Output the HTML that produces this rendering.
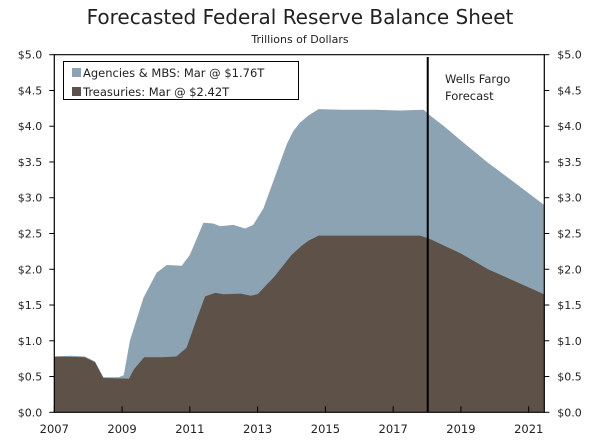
<!DOCTYPE html>
<html><head><meta charset="utf-8"><style>
body{margin:0;background:#fff;width:600px;height:444px;overflow:hidden;font-family:"DejaVu Sans","Liberation Sans",sans-serif;}
</style></head><body>
<svg id="chart" width="600" height="444">
<text x="300" y="24" text-anchor="middle" font-size="20" fill="#222">Forecasted Federal Reserve Balance Sheet</text>
<text x="300" y="43" text-anchor="middle" font-size="11" fill="#222">Trillions of Dollars</text>
<g id="plot"></g>
</svg>
<script>
const totalYears=[2007,2007.5,2007.9,2008.2,2008.45,2008.9,2009.05,2009.23,2009.63,2010.02,2010.32,2010.76,2011.0,2011.4,2011.69,2011.9,2012.28,2012.63,2012.87,2013.17,2013.86,2014.05,2014.25,2014.5,2014.8,2015.5,2016.5,2017.2,2017.9,2018.04,2018.5,2019.0,2019.77,2020.56,2021.45];
const totalValues=[0.78,0.79,0.78,0.71,0.49,0.49,0.52,1.0,1.6,1.95,2.06,2.05,2.2,2.65,2.64,2.6,2.62,2.57,2.62,2.85,3.75,3.93,4.05,4.15,4.24,4.23,4.23,4.22,4.23,4.17,4.0,3.8,3.5,3.22,2.9];
const treasYears=[2007,2007.9,2008.2,2008.45,2009.2,2009.35,2009.65,2010.2,2010.6,2010.9,2011.2,2011.45,2011.75,2012.0,2012.5,2012.8,2013.0,2013.5,2014.0,2014.3,2014.5,2014.8,2017.8,2018.1,2019.0,2019.8,2020.6,2021.45];
const treasValues=[0.78,0.77,0.7,0.48,0.47,0.6,0.77,0.77,0.78,0.9,1.3,1.62,1.67,1.65,1.66,1.63,1.65,1.9,2.2,2.33,2.4,2.47,2.47,2.42,2.22,2.0,1.83,1.65];
const yTicks=[0,0.5,1,1.5,2,2.5,3,3.5,4,4.5,5];
const xTicks=[2007,2009,2011,2013,2015,2017,2019,2021];
const forecastYear=2018.02;

const X0=54.3,X1=544.3,Y0=412.3,Y1=54.7,yrMin=2007,yrMax=2021.46;
const xs=y=>X0+(y-yrMin)/(yrMax-yrMin)*(X1-X0);
const ys=v=>Y0-v/5*(Y0-Y1);
const NS='http://www.w3.org/2000/svg';
const g=document.getElementById('plot');
function mk(t,a){const e=document.createElementNS(NS,t);for(const k in a)e.setAttribute(k,a[k]);g.appendChild(e);return e;}
function area(yrs,vals){let d='M'+xs(yrs[0])+','+Y0;yrs.forEach((y,i)=>d+='L'+xs(y).toFixed(1)+','+ys(vals[i]).toFixed(1));d+='L'+xs(yrs[yrs.length-1])+','+Y0+'Z';return d;}
let a1=mk('path',{d:area(totalYears,totalValues),fill:'#8ba3b2'});


let a2=mk('path',{d:area(treasYears,treasValues),fill:'#5e5147'});


let fl=mk('line',{x1:xs(forecastYear),x2:xs(forecastYear),y1:57,y2:Y0,stroke:'#000','stroke-width':2});


let ft=mk('text',{x:445,y:83,'font-size':11.5,fill:'#222'});ft.textContent='Wells Fargo';


let ft2=mk('text',{x:445,y:100,'font-size':11.5,fill:'#222'});ft2.textContent='Forecast';


let fr=mk('path',{d:`M${X0},${Y1}H${X1}V${Y0}H${X0}Z`,fill:'none',stroke:'#000','stroke-width':1.2});


yTicks.forEach(v=>{
 mk('line',{x1:X0-5,x2:X0,y1:ys(v),y2:ys(v),stroke:'#000'});
 mk('line',{x1:X1,x2:X1+5,y1:ys(v),y2:ys(v),stroke:'#000'});
 let t=mk('text',{x:X0-12,y:ys(v)+4,'text-anchor':'end','font-size':11,fill:'#222'});t.textContent='$'+v.toFixed(1);
 
 
 let t2=mk('text',{x:X1+13,y:ys(v)+4,'font-size':11,fill:'#222'});t2.textContent='$'+v.toFixed(1);
 
 
});
xTicks.forEach(y=>{
 mk('line',{x1:xs(y),x2:xs(y),y1:Y0,y2:Y0-6,stroke:'#000'});
 let t=mk('text',{x:xs(y),y:433,'text-anchor':'middle','font-size':11.5,fill:'#222'});t.textContent=y;
 
 
});
let lb=mk('rect',{x:63.5,y:61.5,width:235,height:38,fill:'#fff',stroke:'#000'});


mk('rect',{x:72,y:68,width:9,height:9,fill:'#8ba3b2'});
let l1=mk('text',{x:83,y:77,'font-size':11.5,fill:'#222'});l1.textContent='Agencies & MBS: Mar @ $1.76T';


mk('rect',{x:72,y:87,width:9,height:9,fill:'#5e5147'});
let l2=mk('text',{x:83,y:96,'font-size':11.5,fill:'#222'});l2.textContent='Treasuries: Mar @ $2.42T';


</script>
</body></html>
